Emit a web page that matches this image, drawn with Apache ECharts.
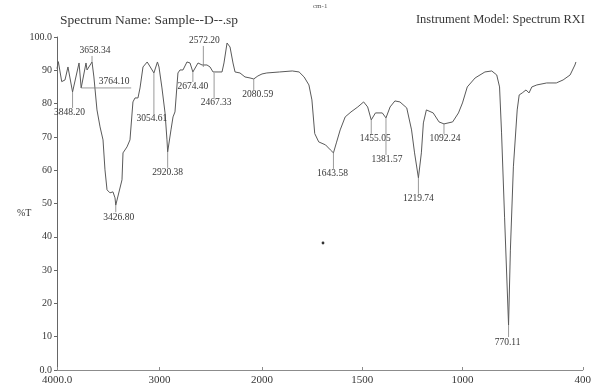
<!DOCTYPE html>
<html>
<head>
<meta charset="utf-8">
<script src="https://cdn.jsdelivr.net/npm/echarts@6/dist/echarts.min.js"></script>
<style>
  html, body { margin: 0; padding: 0; background: #ffffff; }
  #chart { width: 594px; height: 389px; }
</style>
</head>
<body>
<div id="chart"></div>
<script>
// IR transmission spectrum: wavenumber (cm-1, descending) and %T
const wavenumbers = [
  4000, 3987, 3954, 3922, 3893, 3848.20, 3785, 3764.10, 3717, 3707, 3658.34, 3640,
  3610, 3580, 3551, 3532, 3512, 3483, 3454, 3434, 3426.80, 3366, 3356, 3317, 3288,
  3259, 3239, 3210, 3190, 3161, 3120, 3090, 3054.61, 3020, 3005, 2976, 2946, 2927,
  2920.38, 2888, 2868, 2849, 2820, 2800, 2771, 2732, 2702, 2674.40, 2624, 2585,
  2572.20, 2537, 2507, 2478, 2467.33, 2429, 2390, 2371, 2341, 2312, 2283, 2263, 2215,
  2166, 2117, 2080.59, 2040, 2000, 1976, 1912, 1849, 1815, 1790, 1766, 1751, 1737,
  1717, 1683, 1659, 1643.58, 1629, 1610, 1585, 1556, 1522, 1493, 1473, 1455.05, 1434,
  1400, 1381.57, 1361, 1337, 1312, 1278, 1254, 1239, 1219.74, 1205, 1195, 1180, 1146,
  1117, 1092.24, 1049, 1020, 1000, 976, 937, 888, 854, 829, 815, 805, 790, 770.11,
  761, 746, 727, 717, 702, 683, 668, 654, 629, 580, 532, 498, 463, 439, 434
];
const transmittance = [
  90.5, 92.6, 86.6, 87.1, 91.0, 83.5, 92.2, 84.7, 92.2, 90.1, 92.5, 88.0,
  78.1, 73.0, 69.1, 60.1, 54.1, 53.2, 53.5, 51.7, 49.5, 57.1, 65.2, 67.0, 69.1,
  80.5, 81.7, 81.7, 84.7, 91.0, 92.5, 91.0, 89.2, 92.5, 91.0, 84.7, 77.2, 69.1,
  65.5, 72.1, 76.0, 77.5, 89.2, 90.1, 90.1, 92.5, 92.2, 89.5, 92.2, 91.6,
  91.0, 91.6, 91.0, 89.5, 89.2, 89.5, 89.5, 92.2, 98.2, 97.0, 92.2, 89.5, 89.2,
  88.0, 87.7, 87.4, 88.3, 88.9, 89.2, 89.5, 89.8, 89.5, 88.0, 85.6, 81.1, 71.0,
  68.5, 67.6, 66.1, 65.2, 68.2, 72.1, 76.0, 77.5, 79.0, 80.5, 79.0, 75.1, 77.2,
  77.2, 75.7, 79.0, 80.8, 80.5, 78.7, 72.1, 65.2, 57.7, 65.2, 74.2, 78.1, 77.2,
  74.5, 73.9, 74.5, 77.2, 80.2, 85.0, 87.7, 89.5, 89.8, 88.6, 85.0, 71.2, 45.9, 13.5,
  36.0, 61.0, 78.1, 82.6, 83.2, 84.1, 83.2, 85.0, 85.6, 86.2, 86.2, 87.1, 88.6, 91.6, 92.5
];

// Annotated peaks
const peakWavenumbers = [
  3848.20, 3764.10, 3658.34, 3426.80, 3054.61, 2920.38, 2674.40, 2572.20,
  2467.33, 2080.59, 1643.58, 1455.05, 1381.57, 1219.74, 1092.24, 770.11
];
const peakTransmittance = [
  83.5, 84.7, 92.5, 49.5, 89.2, 65.5, 89.5, 91.0,
  89.2, 87.4, 65.2, 75.1, 75.7, 57.7, 73.9, 13.5
];

// Axis ticks
const xTicksHigh = [4000, 3000, 2000];
const xTicksLow = [1500, 1000, 400];
const yTicks = [0, 10, 20, 30, 40, 50, 60, 70, 80, 90, 100];

// Where each peak label sits relative to its peak (pixels) and how the leader runs
const peakLabelPlacement = [
  [-3, 21, 'v'], [33, -6, 'h'], [3, -11, 'v'], [3, 12, 'v'],
  [-2, 46, 'v'], [0, 21, 'v'], [0, 15, 'v'], [1, -26, 'v'],
  [2, 30, 'v'], [4, 16, 'v'], [-1, 21, 'v'], [4, 19, 'v'],
  [1, 42, 'v'], [0, 21, 'v'], [1, 15, 'v'], [-1, 17, 'v']
];

const SERIF = '"Liberation Serif", "DejaVu Serif", serif';
const INK = '#363636';

const highData = [], lowData = [];
wavenumbers.forEach((w, i) => {
  if (w >= 2000) highData.push([w, transmittance[i]]);
  if (w <= 2000) lowData.push([w, transmittance[i]]);
});
const peakHigh = [], peakLow = [];
peakWavenumbers.forEach((w, i) => {
  (w >= 2000 ? peakHigh : peakLow).push([w, peakTransmittance[i], i]);
});

function renderPeak(params, api) {
  const i = api.value(2);
  const p = api.coord([api.value(0), api.value(1)]);
  const pl = peakLabelPlacement[i];
  const tx = p[0] + pl[0], ty = p[1] + pl[1];
  let shape;
  if (pl[2] === 'h') {
    shape = { x1: p[0], y1: p[1], x2: p[0] + 50, y2: p[1] };
  } else if (pl[1] > 0) {
    shape = { x1: p[0], y1: p[1], x2: p[0], y2: ty - 5 };
  } else {
    shape = { x1: p[0], y1: ty + 5, x2: p[0], y2: p[1] };
  }
  return {
    type: 'group',
    children: [
      { type: 'line', shape: shape, style: { stroke: '#808080', lineWidth: 0.8 } },
      { type: 'text', x: tx, y: ty,
        style: { text: peakWavenumbers[i].toFixed(2), fill: INK,
                 font: '9.5px ' + SERIF, align: 'center', verticalAlign: 'middle' } }
    ]
  };
}

const chart = echarts.init(document.getElementById('chart'), null, { renderer: 'canvas' });

const xLabelStyle = { fontFamily: SERIF, fontSize: 11, color: INK, margin: 5 };

chart.setOption({
  animation: false,
  backgroundColor: '#ffffff',
  title: [
    { text: 'Spectrum Name: Sample--D--.sp', left: 55, top: 8,
      textStyle: { fontFamily: SERIF, fontSize: 13.5, fontWeight: 'normal', color: INK } },
    { text: 'Instrument Model: Spectrum RXI', right: 4, top: 8,
      textStyle: { fontFamily: SERIF, fontSize: 12.5, fontWeight: 'normal', color: INK } },
    { text: 'cm-1', left: 308, top: -2,
      textStyle: { fontFamily: SERIF, fontSize: 7, fontWeight: 'normal', color: '#555' } },
    { text: '%T', left: 12, top: 203,
      textStyle: { fontFamily: SERIF, fontSize: 10, fontWeight: 'normal', color: INK } }
  ],
  grid: [
    { left: 57, top: 37, width: 205, height: 333 },
    { left: 262, top: 37, width: 328, height: 333 }
  ],
  xAxis: [
    { gridIndex: 0, type: 'value', min: 2000, max: 4000, inverse: true,
      splitLine: { show: false },
      axisLine: { lineStyle: { color: '#8c8c8c', width: 1 } },
      axisTick: { customValues: xTicksHigh, inside: true, length: 3, lineStyle: { color: '#8c8c8c' } },
      axisLabel: Object.assign({ customValues: xTicksHigh,
        formatter: v => (v === 4000 ? '4000.0' : String(v)) }, xLabelStyle) },
    { gridIndex: 1, type: 'value', min: 400, max: 2000, inverse: true,
      splitLine: { show: false },
      axisLine: { lineStyle: { color: '#8c8c8c', width: 1 } },
      axisTick: { customValues: xTicksLow, inside: true, length: 3, lineStyle: { color: '#8c8c8c' } },
      axisLabel: Object.assign({ customValues: xTicksLow,
        formatter: v => String(v) }, xLabelStyle) }
  ],
  yAxis: [
    { gridIndex: 0, type: 'value', min: 0, max: 100, interval: 10,
      splitLine: { show: false },
      axisLine: { show: true, lineStyle: { color: '#666', width: 1 } },
      axisTick: { show: true, length: 3, lineStyle: { color: '#666' } },
      axisLabel: { fontFamily: SERIF, fontSize: 10, color: INK, margin: 5,
        customValues: yTicks,
        formatter: v => (v === 100 ? '100.0' : v === 0 ? '0.0' : String(v)) } },
    { gridIndex: 1, type: 'value', min: 0, max: 100, show: false }
  ],
  series: [
    { type: 'line', xAxisIndex: 0, yAxisIndex: 0, data: highData,
      showSymbol: false, lineStyle: { color: '#5a5a5a', width: 1 } },
    { type: 'line', xAxisIndex: 1, yAxisIndex: 1, data: lowData,
      showSymbol: false, lineStyle: { color: '#5a5a5a', width: 1 } },
    { type: 'custom', xAxisIndex: 0, yAxisIndex: 0, data: peakHigh,
      renderItem: renderPeak, clip: false, z: 5 },
    { type: 'custom', xAxisIndex: 1, yAxisIndex: 1, data: peakLow,
      renderItem: renderPeak, clip: false, z: 5 }
  ],
  graphic: [
    { type: 'circle', shape: { cx: 323, cy: 243, r: 1.4 }, style: { fill: '#333' } }
  ]
});
</script>
</body>
</html>
